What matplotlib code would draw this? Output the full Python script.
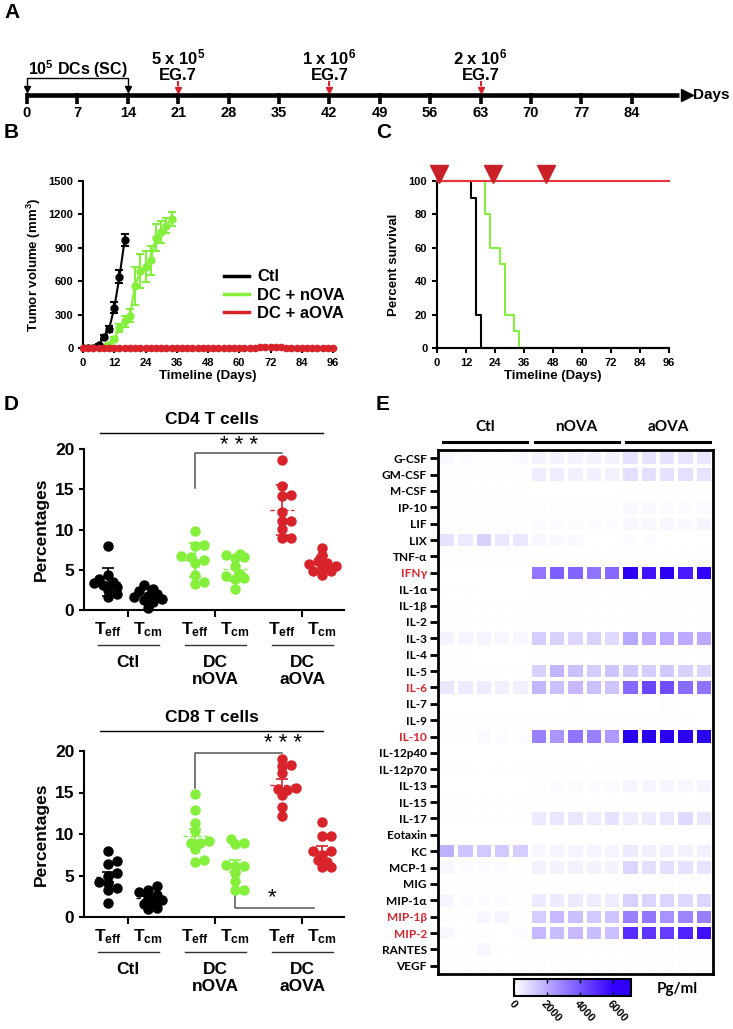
"""
Multi-panel figure: vaccination timeline, tumor growth, survival,
T cell percentages and cytokine heatmap.
"""
import numpy as np
import matplotlib
matplotlib.use("Agg")
import matplotlib.pyplot as plt
import matplotlib.transforms as mtransforms
from matplotlib.colors import LinearSegmentedColormap
from matplotlib.lines import Line2D

plt.rcParams['font.family'] = ['Liberation Sans', 'DejaVu Sans']
plt.rcParams['font.weight'] = 'bold'
plt.rcParams['axes.labelweight'] = 'bold'
plt.rcParams['mathtext.fontset'] = 'custom'
plt.rcParams['mathtext.rm'] = 'Liberation Sans:bold'
plt.rcParams['mathtext.bf'] = 'Liberation Sans:bold'
plt.rcParams['mathtext.it'] = 'Liberation Sans:bold'

# ---------------- data ----------------
# A: timeline
timeline_days = list(range(0, 85, 7))
dc_days = [0, 14]
challenge_days = [21, 42, 63]
challenge_doses = ['5 x 10$^5$', '1 x 10$^6$', '2 x 10$^6$']

# B: tumor volume (mm3)
ctl_days = [0, 2, 4, 6, 8, 10, 12, 14, 16]
ctl_vol = [0, 0, 0, 30, 100, 170, 360, 640, 970]
ctl_err = [0, 0, 0, 10, 20, 25, 50, 60, 50]
nova_days = [0, 2, 4, 6, 8, 10, 12, 14, 16, 18, 20, 22, 24, 26, 28, 30, 32, 34]
nova_vol = [0, 0, 0, 0, 10, 30, 80, 180, 240, 290, 560, 690, 730, 790, 990, 1040, 1100, 1160]
nova_err = [0, 0, 0, 0, 10, 15, 20, 40, 50, 60, 170, 150, 140, 130, 120, 100, 70, 60]
aova_days = list(range(0, 97, 2))
aova_vol = [0] * 34 + [5, 10, 12, 8, 5] + [0] * 10

# C: survival (%)
surv_ctl_days = [0, 14, 16, 18, 96]
surv_ctl = [100, 90, 20, 0, 0]
surv_nova_days = [0, 20, 22, 26, 28, 32, 34, 96]
surv_nova = [100, 80, 60, 50, 20, 10, 0, 0]
surv_aova_days = [0, 96]
surv_aova = [100, 100]
challenge_marks = [1, 23, 45]

# D: T cell percentages (10 mice per group)
groups = ['Ctl', 'DC\nnOVA', 'DC\naOVA']
cd4_teff = [
    [7.9, 4.3, 3.9, 3.5, 3.3, 3.1, 2.9, 2.5, 2.0, 1.6],
    [9.8, 8.1, 8.0, 6.7, 6.6, 6.2, 5.8, 4.4, 3.5, 3.2],
    [18.6, 15.4, 14.3, 14.1, 12.2, 11.0, 11.0, 10.1, 9.0, 9.0],
]
cd4_tcm = [
    [3.1, 2.6, 2.3, 2.0, 1.8, 1.6, 1.4, 1.2, 1.0, 0.3],
    [7.0, 6.8, 6.6, 6.4, 5.5, 4.5, 4.2, 4.0, 3.8, 2.6],
    [7.7, 6.8, 6.1, 5.9, 5.7, 5.5, 5.4, 4.9, 4.8, 4.4],
]
cd8_teff = [
    [7.9, 6.7, 6.4, 5.3, 5.0, 4.2, 4.1, 3.5, 3.3, 1.7],
    [14.8, 12.9, 11.3, 10.4, 9.2, 8.9, 8.9, 8.2, 6.9, 6.6],
    [19.0, 18.3, 18.2, 17.3, 15.5, 15.4, 15.3, 14.7, 13.3, 12.2],
]
cd8_tcm = [
    [3.7, 3.3, 3.0, 2.7, 2.5, 2.1, 1.8, 1.6, 1.1, 1.0],
    [9.4, 8.9, 8.8, 6.3, 6.2, 6.1, 5.3, 4.3, 3.3, 3.3],
    [11.4, 9.8, 9.7, 8.0, 7.9, 7.5, 6.9, 6.6, 6.0, 6.0],
]

# E: cytokines (pg/ml), 5 mice per group
cytokines = ['G-CSF', 'GM-CSF', 'M-CSF', 'IP-10', 'LIF', 'LIX', 'TNF-α', 'IFNγ',
             'IL-1α', 'IL-1β', 'IL-2', 'IL-3', 'IL-4', 'IL-5', 'IL-6', 'IL-7',
             'IL-9', 'IL-10', 'IL-12p40', 'IL-12p70', 'IL-13', 'IL-15', 'IL-17',
             'Eotaxin', 'KC', 'MCP-1', 'MIG', 'MIP-1α', 'MIP-1β', 'MIP-2',
             'RANTES', 'VEGF']
highlighted = ['IFNγ', 'IL-6', 'IL-10', 'MIP-1β', 'MIP-2']
heat_groups = ['Ctl', 'nOVA', 'aOVA']
ctl_pg = [
    [150, 100, 80, 60, 150], [80, 80, 80, 60, 60], [50, 50, 40, 40, 40],
    [60, 60, 60, 60, 60], [60, 60, 60, 60, 60], [700, 500, 1100, 600, 600],
    [80, 80, 60, 60, 60], [0, 0, 0, 0, 0], [40, 40, 20, 20, 20],
    [40, 40, 30, 30, 30], [60, 60, 40, 40, 40], [300, 250, 250, 220, 200],
    [30, 30, 20, 20, 20], [40, 30, 30, 30, 30], [600, 500, 450, 400, 400],
    [0, 0, 0, 0, 0], [40, 40, 30, 30, 30], [50, 80, 150, 100, 100],
    [0, 0, 0, 0, 0], [40, 40, 20, 30, 30], [0, 0, 0, 0, 0],
    [40, 40, 30, 30, 30], [30, 30, 30, 30, 30], [0, 0, 0, 0, 0],
    [1900, 1400, 1300, 1300, 1200], [200, 100, 100, 100, 50], [40, 40, 30, 30, 30],
    [250, 100, 100, 100, 60], [50, 50, 200, 250, 50], [200, 50, 50, 0, 100],
    [40, 40, 200, 40, 40], [60, 60, 60, 60, 60],
]
nova_pg = [
    [300, 300, 300, 300, 300], [450, 450, 400, 400, 350], [0, 0, 0, 0, 0],
    [60, 60, 60, 60, 60], [100, 100, 100, 100, 100], [200, 150, 150, 0, 0],
    [40, 40, 40, 40, 40], [3200, 3800, 3700, 3300, 3600], [40, 40, 40, 40, 40],
    [40, 40, 40, 40, 40], [50, 50, 50, 50, 50], [1200, 1100, 1000, 1100, 900],
    [30, 30, 30, 30, 30], [1100, 1800, 1500, 1200, 1400], [1800, 1500, 1700, 1500, 1400],
    [0, 0, 100, 0, 0], [30, 30, 30, 30, 30], [3000, 2500, 3300, 3000, 2400],
    [0, 0, 0, 0, 0], [40, 40, 40, 40, 40], [80, 120, 120, 100, 120],
    [30, 30, 30, 30, 30], [500, 600, 600, 450, 700], [0, 0, 0, 0, 0],
    [200, 250, 250, 250, 250], [350, 300, 350, 300, 300], [40, 40, 40, 40, 40],
    [500, 500, 500, 450, 450], [1200, 1700, 1500, 1300, 1400], [1700, 1600, 1700, 1600, 1500],
    [40, 40, 40, 40, 40], [60, 60, 60, 60, 60],
]
aova_pg = [
    [700, 700, 700, 650, 600], [800, 800, 700, 750, 700], [40, 40, 30, 30, 30],
    [150, 150, 120, 100, 150], [200, 200, 200, 150, 250], [100, 100, 0, 0, 0],
    [40, 40, 40, 40, 40], [6800, 5600, 6900, 5400, 6300], [60, 40, 40, 60, 40],
    [40, 40, 40, 40, 40], [50, 50, 50, 50, 50], [2100, 2000, 2000, 2000, 2000],
    [30, 30, 30, 30, 30], [1300, 1200, 1300, 1100, 1000], [3600, 4400, 4200, 3500, 3300],
    [0, 0, 100, 0, 0], [40, 40, 40, 40, 0], [7000, 7000, 7000, 7000, 7000],
    [0, 0, 0, 0, 0], [40, 40, 40, 0, 0], [250, 250, 250, 200, 250],
    [30, 30, 30, 30, 30], [450, 500, 600, 900, 600], [0, 0, 0, 0, 0],
    [500, 400, 400, 350, 400], [1000, 800, 800, 700, 700], [60, 60, 60, 60, 60],
    [1100, 1000, 1000, 900, 1000], [3000, 3200, 2600, 2900, 3000], [5000, 4800, 4600, 5200, 5700],
    [60, 60, 60, 60, 60], [60, 60, 60, 60, 60],
]

# ---------------- style ----------------
BLACK = '#000000'
GREEN = '#84f03c'
RED = '#d8232a'
RED_LINE = '#e8343c'
TRI_RED = '#c91f26'

W, H = 733, 1029
fig = plt.figure(figsize=(W / 100, H / 100), dpi=100)


def box(x0, y0, x1, y1):
    """pixel box (top-left origin) -> figure rect"""
    return [x0 / W, 1 - y1 / H, (x1 - x0) / W, (y1 - y0) / H]


def ftext(x, y, s, **kw):
    fig.text(x / W, 1 - y / H, s, **kw)


def fline(x0, x1, y, **kw):
    fig.add_artist(Line2D([x0 / W, x1 / W], [1 - y / H, 1 - y / H],
                          transform=fig.transFigure, **kw))


for lab, x, y in [('A', 4, 12), ('B', 4, 133), ('C', 376, 133), ('D', 4, 405), ('E', 376, 405)]:
    ftext(x, y, lab, fontsize=15, va='center', ha='left')

# ---------------- A: timeline ----------------
px_per_day = 7.2
axA = fig.add_axes(box(0, 0, W, 122))
axA.set_xlim(-27 / px_per_day, (W - 27) / px_per_day)
axA.set_ylim(122, 0)
axA.axis('off')
axA.plot([0, 90.6], [95, 95], color=BLACK, lw=3.3, solid_capstyle='butt')
axA.plot(91.6, 95, marker='>', ms=9, color=BLACK)
axA.text(92.5, 95, 'Days', va='center', ha='left', fontsize=11)
for d in timeline_days:
    axA.plot([d, d], [93, 104], color=BLACK, lw=2.6, solid_capstyle='butt')
    axA.text(d, 113, str(d), ha='center', va='center', fontsize=10.5)
for d, dose in zip(challenge_days, challenge_doses):
    axA.text(d, 57, dose, ha='center', va='center', fontsize=12)
    axA.text(d, 76, 'EG.7', ha='center', va='center', fontsize=12)
    axA.plot([d, d], [81, 88], color=RED, lw=1.5, ls=(0, (2.5, 1.5)))
    axA.plot(d, 89.5, marker='v', ms=5, color=RED)
axA.plot([dc_days[0], dc_days[0], dc_days[1], dc_days[1]], [88, 78, 78, 88], color=BLACK, lw=1)
for d in dc_days:
    axA.plot(d, 89, marker='v', ms=5, color=BLACK)
axA.text(np.mean(dc_days), 69, '10$^5$ DCs (SC)', ha='center', va='center', fontsize=11.5)


def style_axes(ax, labelsize=8):
    for s in ['top', 'right']:
        ax.spines[s].set_visible(False)
    for s in ['left', 'bottom']:
        ax.spines[s].set_linewidth(1.5)
    ax.tick_params(labelsize=labelsize, width=1.5, length=3.5)


# ---------------- B: tumor growth ----------------
axB = fig.add_axes(box(83, 181, 333, 348))
axB.errorbar(aova_days, aova_vol, color=RED, marker='o', ms=4.5, lw=1.5,
             label='DC + aOVA', zorder=5, clip_on=False)
axB.errorbar(nova_days, nova_vol, yerr=nova_err, color=GREEN, marker='o', ms=5, lw=1.5,
             capsize=3, elinewidth=1.5, capthick=1.5, label='DC + nOVA', zorder=3)
axB.errorbar(ctl_days, ctl_vol, yerr=ctl_err, color=BLACK, marker='o', ms=5, lw=1.5,
             capsize=3, elinewidth=1.5, capthick=1.5, label='Ctl', zorder=4)
axB.set_xlim(0, 96)
axB.set_ylim(0, 1500)
axB.set_xticks(range(0, 97, 12))
axB.set_yticks(range(0, 1501, 300))
style_axes(axB)
axB.set_xlabel('Timeline (Days)', fontsize=9.5, labelpad=2)
axB.set_ylabel('Tumor volume (mm$^3$)', fontsize=9.5, labelpad=4)
leg_handles = [Line2D([], [], color=c, lw=2.5) for c in [BLACK, GREEN, RED]]
axB.legend(leg_handles, ['Ctl', 'DC + nOVA', 'DC + aOVA'], loc='upper left',
           bbox_to_anchor=(0.53, 0.52), frameon=False, fontsize=12, handlelength=1.5,
           handletextpad=0.5, labelspacing=0.2, borderpad=0)

# ---------------- C: survival ----------------
axC = fig.add_axes(box(437, 181, 669, 348))
axC.step(surv_ctl_days, surv_ctl, where='post', color=BLACK, lw=1.5, clip_on=False)
axC.step(surv_nova_days, surv_nova, where='post', color=GREEN, lw=1.5, clip_on=False)
axC.plot(surv_aova_days, surv_aova, color=RED_LINE, lw=1.5, clip_on=False, zorder=4)
axC.plot(challenge_marks, [104] * len(challenge_marks), ls='none', marker='v',
         ms=13, color=TRI_RED, clip_on=False, zorder=5)
axC.set_xlim(0, 96)
axC.set_ylim(0, 100)
axC.set_xticks(range(0, 97, 12))
axC.set_yticks(range(0, 101, 20))
style_axes(axC)
axC.set_xlabel('Timeline (Days)', fontsize=9.5, labelpad=2)
axC.set_ylabel('Percent survival', fontsize=9.5, labelpad=6)


# ---------------- D: T cell dot plots ----------------
def swarm(vals, x0, px_x, px_y, d=6.5):
    placed = []
    xs = np.zeros(len(vals))
    for i in np.argsort(vals):
        y = vals[i] * px_y
        best, best_gap = 0.0, -1
        for k in [0, 1, -1, 2, -2, 3, -3]:
            dx = k * d * 0.7
            gap = min([np.hypot(dx - a, y - b) for a, b in placed] + [99])
            if gap >= d:
                best = dx
                break
            if gap > best_gap:
                best, best_gap = dx, gap
        placed.append((best, y))
        xs[i] = x0 + best / px_x
    return xs


def dot_panel(top, bottom, teff, tcm, sem, title, title_y):
    ax = fig.add_axes(box(84, top, 344, bottom))
    xlo, xhi = 0.494, 3.48
    px_x = 260 / (xhi - xlo)
    px_y = (bottom - top) / 20
    colors = [BLACK, GREEN, RED]
    for g, c in enumerate(colors):
        for off, vals in [(-0.23, teff[g]), (0.23, tcm[g])]:
            v = np.array(vals)
            x0 = g + 1 + off
            xs = swarm(v, x0, px_x, px_y)
            ax.plot(xs, v, ls='none', marker='o', ms=6.5, color=c, clip_on=False, zorder=3)
            m = v.mean()
            e = v.std(ddof=1) / (np.sqrt(len(v)) if sem else 1)
            ax.plot([x0 - 0.14, x0 + 0.14], [m, m], ls=(0, (3, 2)), lw=1, color=c, zorder=4)
            ax.errorbar(x0, m, yerr=e, fmt='none', ecolor=c, capsize=4, elinewidth=1.2,
                        capthick=1.2, zorder=4)
    ax.set_xlim(xlo, xhi)
    ax.set_ylim(0, 20)
    ax.set_yticks([0, 5, 10, 15, 20])
    ax.set_xticks([1, 2, 3])
    ax.set_xticklabels([])
    style_axes(ax, labelsize=12.5)
    ax.tick_params(axis='x', length=5)
    ax.set_ylabel('Percentages', fontsize=12.5, labelpad=4)
    trans = mtransforms.blended_transform_factory(ax.transData, fig.transFigure)
    for g, name in enumerate(groups):
        for off, sub in [(-0.23, 'eff'), (0.23, 'cm')]:
            ax.text(g + 1 + off, 1 - (bottom + 20) / H, 'T$_{\\mathrm{' + sub + '}}$',
                    transform=trans, ha='center', va='center', fontsize=12.5)
        ax.plot([g + 1 - 0.35, g + 1 + 0.35], [1 - (bottom + 35) / H] * 2, transform=trans,
                color='#333333', lw=1, clip_on=False)
        ax.text(g + 1, 1 - (bottom + 45) / H, name, transform=trans, ha='center', va='top',
                fontsize=12.5, linespacing=1.15)
    ftext(212, title_y, title, fontsize=12.5, ha='center', va='center')
    fline(100, 323, title_y + 13, color=BLACK, lw=1)
    return ax


axD1 = dot_panel(449, 610, cd4_teff, cd4_tcm, False, 'CD4 T cells', 420)
axD2 = dot_panel(751, 917, cd8_teff, cd8_tcm, True, 'CD8 T cells', 718)

GRAY = '#555555'
axD1.plot([1.77, 1.77, 2.77], [15.2, 19.5, 19.5], color=GRAY, lw=1.1, clip_on=False)
axD1.text(2.28, 20.4, '* * *', ha='center', va='center', fontsize=16, fontweight='normal')
axD2.plot([1.77, 1.77, 2.77], [15.6, 19.7, 19.7], color=GRAY, lw=1.1, clip_on=False)
axD2.text(2.78, 20.9, '* * *', ha='center', va='center', fontsize=16, fontweight='normal')
axD2.plot([2.23, 2.23, 3.13], [2.5, 1.1, 1.1], color=GRAY, lw=1.1, clip_on=False)
axD2.text(2.65, 2.3, '*', ha='center', va='center', fontsize=16, fontweight='normal')

# ---------------- E: cytokine heatmap ----------------
heat = np.hstack([np.array(ctl_pg), np.array(nova_pg), np.array(aova_pg)])
cmap = LinearSegmentedColormap.from_list(
    'wb', [(0, '#ffffff'), (0.85, '#3300ff'), (1, '#2a00ee')])
axE = fig.add_axes(box(438, 450, 713, 974))
mesh = axE.pcolormesh(heat, cmap=cmap, vmin=0, vmax=7100, edgecolors='white', linewidth=1.6)
axE.set_xlim(0, heat.shape[1])
axE.set_ylim(heat.shape[0], 0)
axE.set_xticks([])
axE.set_yticks(np.arange(len(cytokines)) + 0.5)
axE.set_yticklabels(cytokines, fontsize=8.5, family=['Lato', 'DejaVu Sans'])
for lbl in axE.get_yticklabels():
    if lbl.get_text() in highlighted:
        lbl.set_color(RED)
axE.tick_params(axis='y', length=6, width=2, pad=2)
for s in axE.spines.values():
    s.set_linewidth(2)

for i, name in enumerate(heat_groups):
    x0 = 443 + i * 91.5
    fline(x0, x0 + 84, 441.5, color=BLACK, lw=2.2)
    ftext(x0 + 42, 427, name, fontsize=11, ha='center', va='center',
          family=['Lato', 'DejaVu Sans'])

cax = fig.add_axes(box(514, 979, 631, 996))
cb = fig.colorbar(mesh, cax=cax, orientation='horizontal', ticks=[0, 2000, 4000, 6000])
cb.outline.set_linewidth(1.5)
cax.tick_params(axis='x', direction='in', top=True, length=3, width=1, labelsize=8, pad=2)
for t in cax.get_xticklabels():
    t.set_rotation(-48)
    t.set_ha('left')
    t.set_va('top')
    t.set_rotation_mode('anchor')
ftext(657, 989, 'Pg/ml', fontsize=11, ha='left', va='center', family=['Lato', 'DejaVu Sans'])

plt.savefig('out.png', dpi=100)
plt.close()
